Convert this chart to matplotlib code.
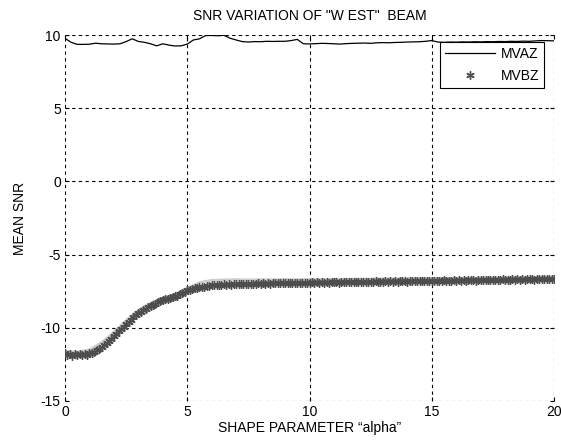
import numpy as np
import matplotlib
matplotlib.use("Agg")
from matplotlib import pyplot as plt

plt.rcParams['font.family'] = ['Liberation Sans', 'DejaVu Sans']
plt.rcParams['axes.unicode_minus'] = False

# MVAZ, sampled every 0.25
az_x = np.arange(0, 20.01, 0.25)
az_y = [9.77, 9.50, 9.36, 9.36, 9.37, 9.44, 9.40, 9.39, 9.38, 9.40,
        9.55, 9.74, 9.56, 9.50, 9.40, 9.26, 9.40, 9.31, 9.25, 9.26,
        9.38, 9.66, 9.74, 9.96, 9.97, 9.95, 9.98, 9.78, 9.66, 9.55,
        9.52, 9.55, 9.54, 9.57, 9.56, 9.57, 9.57, 9.62, 9.70, 9.40,
        9.39, 9.41, 9.43, 9.42, 9.40, 9.38, 9.41, 9.43, 9.44, 9.45,
        9.43, 9.47, 9.48, 9.47, 9.49, 9.50, 9.52, 9.53, 9.54, 9.57,
        9.62, 9.52, 9.50, 9.52, 9.51, 9.53, 9.52, 9.54, 9.53, 9.55,
        9.54, 9.56, 9.55, 9.57, 9.56, 9.58, 9.57, 9.60, 9.62, 9.61,
        9.60]

# MVBZ, sampled every 0.1
bz_x = np.arange(0, 20.001, 0.1)
bz_y = [-11.75, -11.85, -11.80, -11.90, -11.78, -11.86, -11.82, -11.88, -11.79, -11.84,
        -11.72, -11.70, -11.62, -11.55, -11.42, -11.30, -11.18, -11.02, -10.90, -10.75,
        -10.58, -10.42, -10.25, -10.10, -9.92, -9.75, -9.60, -9.45, -9.28, -9.15,
        -9.00, -8.90, -8.78, -8.70, -8.58, -8.50, -8.42, -8.35, -8.25, -8.20,
        -8.12, -8.05, -8.00, -7.95, -7.90, -7.85, -7.80, -7.72, -7.65, -7.55,
        -7.45, -7.40, -7.35, -7.30, -7.28, -7.22, -7.20, -7.18, -7.15, -7.12,
        -7.10, -7.08, -7.10, -7.05, -7.07, -7.04, -7.06, -7.03, -7.05, -7.02,
        -7.04, -7.01, -7.03, -7.00, -7.02, -6.99, -7.01, -6.98, -7.00, -6.97,
        -6.99, -6.97, -7.00, -6.96, -6.98, -6.95, -6.97, -6.94, -6.96, -6.95,
        -6.97, -6.93, -6.95, -6.92, -6.96, -6.93, -6.94, -6.91, -6.93, -6.92,
        -6.94, -6.90, -6.92, -6.89, -6.93, -6.90, -6.91, -6.88, -6.92, -6.89,
        -6.90, -6.88, -6.91, -6.87, -6.89, -6.86, -6.90, -6.87, -6.88, -6.85,
        -6.89, -6.86, -6.87, -6.84, -6.88, -6.85, -6.86, -6.83, -6.87, -6.84,
        -6.85, -6.82, -6.86, -6.83, -6.84, -6.81, -6.85, -6.82, -6.83, -6.80,
        -6.84, -6.81, -6.82, -6.79, -6.83, -6.80, -6.81, -6.78, -6.82, -6.79,
        -6.80, -6.77, -6.81, -6.78, -6.79, -6.76, -6.80, -6.77, -6.78, -6.75,
        -6.79, -6.76, -6.77, -6.74, -6.78, -6.75, -6.76, -6.73, -6.77, -6.74,
        -6.75, -6.72, -6.76, -6.73, -6.74, -6.71, -6.75, -6.72, -6.73, -6.70,
        -6.74, -6.71, -6.72, -6.69, -6.73, -6.70, -6.71, -6.68, -6.72, -6.69,
        -6.70, -6.67, -6.71, -6.68, -6.69, -6.66, -6.70, -6.67, -6.68, -6.65,
        -6.68]

# light grey trace behind the markers, every 0.5
gr_x = np.arange(0, 20.01, 0.5)
gr_y = [-11.60, -11.65, -11.50, -11.00, -10.30, -9.50, -8.80, -8.30, -7.95, -7.70,
        -7.30, -6.90, -6.75, -6.72, -6.70, -6.72, -6.70, -6.71, -6.69, -6.70,
        -6.68, -6.69, -6.67, -6.68, -6.66, -6.66, -6.64, -6.65, -6.63, -6.64,
        -6.62, -6.62, -6.61, -6.61, -6.60, -6.59, -6.59, -6.58, -6.57, -6.56,
        -6.55]

fig = plt.figure(figsize=(5.61, 4.42), dpi=100)
ax = fig.add_axes([0.1159, 0.0928, 0.8716, 0.828])

ax.plot(gr_x, gr_y, color='#cccccc', lw=1.8, zorder=2)
ax.plot(az_x, az_y, color='black', lw=0.9, label='MVAZ', zorder=3)
ax.plot(bz_x, bz_y, ls='none', marker=(6, 2, 0), ms=6, mew=1.0,
        color='#4d4d4d', label='MVBZ', zorder=3)

ax.set_xlim(0, 20)
ax.set_ylim(-15, 10)
ax.set_xticks([0, 5, 10, 15, 20])
ax.set_yticks([-15, -10, -5, 0, 5, 10])

for s in ax.spines.values():
    s.set_visible(False)
ax.grid(True, color='black', ls=(0, (3, 3)), lw=0.8)
ax.tick_params(direction='in', length=3, labelsize=10, pad=3,
               top=True, right=True)

ax.set_title('SNR VARIATION OF "W EST"  BEAM', fontsize=10, pad=11)
ax.set_xlabel('SHAPE PARAMETER \u201calpha\u201d', fontsize=10, labelpad=1)
ax.set_ylabel('MEAN SNR', fontsize=10, labelpad=10)

leg = ax.legend(loc='upper right', bbox_to_anchor=(0.98, 0.981),
                borderaxespad=0, fontsize=10, fancybox=False, framealpha=1,
                edgecolor='black', handlelength=3.6, handletextpad=0.4,
                borderpad=0.35, labelspacing=0.6)
leg.get_frame().set_linewidth(0.8)

fig.savefig('out.png', dpi=100)
